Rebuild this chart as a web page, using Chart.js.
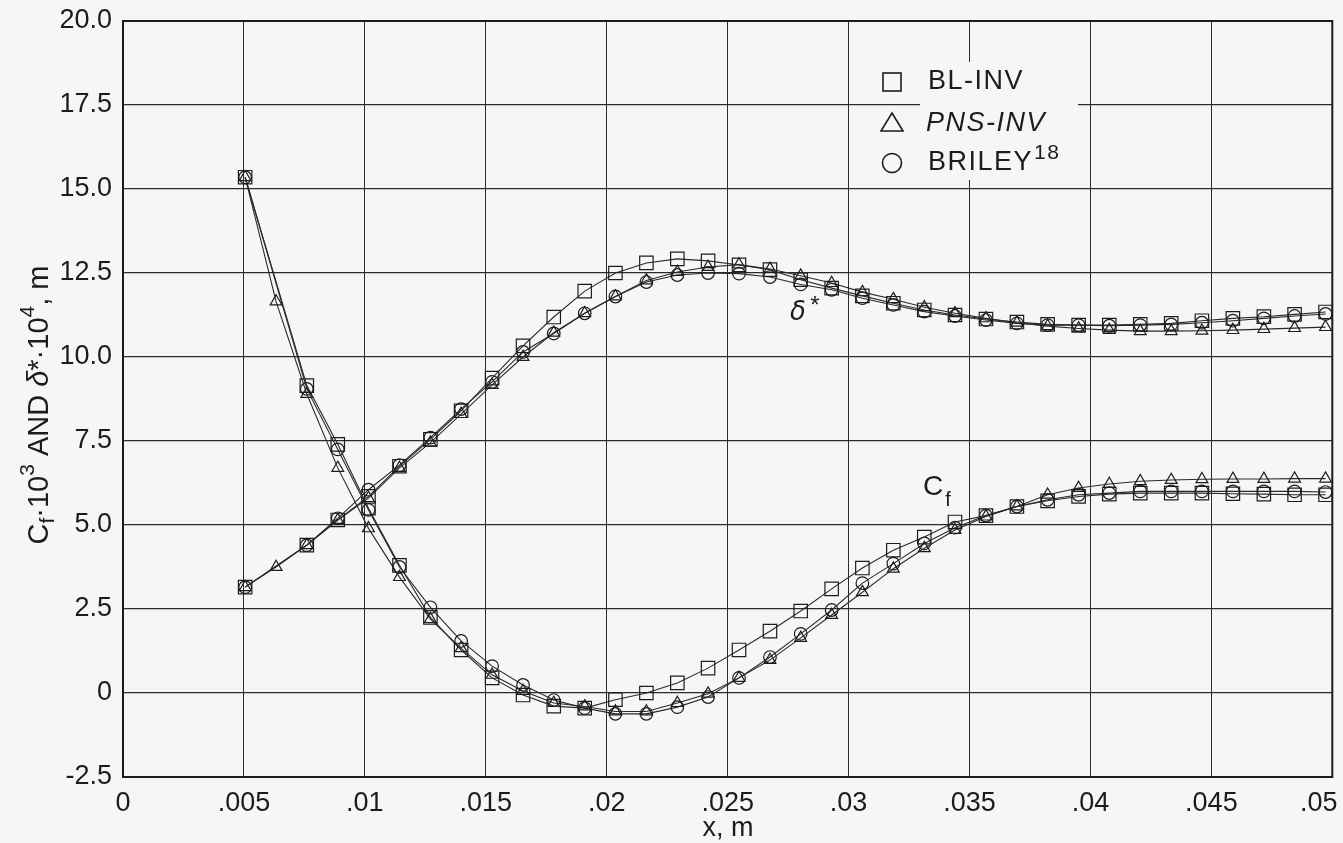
<!DOCTYPE html>
<html>
<head>
<meta charset="utf-8">
<script src="https://cdn.jsdelivr.net/npm/chart.js@4.4.0/dist/chart.umd.min.js"></script>
<style>
  body { margin: 0; background: #f6f6f5; }
  canvas { display: block; }
</style>
</head>
<body>
<canvas id="myChart" width="1343" height="843"></canvas>
<script>
// x stations along the plate, m
const xValues = [0.00505, 0.00633, 0.00760, 0.00888, 0.01015, 0.01143, 0.01271, 0.01398, 0.01526, 0.01654,
  0.01781, 0.01909, 0.02036, 0.02164, 0.02292, 0.02419, 0.02547, 0.02675, 0.02802, 0.02930,
  0.03057, 0.03185, 0.03313, 0.03440, 0.03568, 0.03696, 0.03823, 0.03951, 0.04078, 0.04206,
  0.04334, 0.04461, 0.04589, 0.04717, 0.04844, 0.04972];

// Cf * 10^3
const cfBL = [15.35, null, 9.15, 7.4, 5.5, 3.8, 2.25, 1.28, 0.45, -0.06,
  -0.39, -0.45, -0.2, 0.0, 0.3, 0.74, 1.28, 1.84, 2.44, 3.1,
  3.72, 4.25, 4.64, 5.09, 5.28, 5.55, 5.72, 5.85, 5.92, 5.95,
  5.95, 5.95, 5.93, 5.92, 5.9, 5.9];
const cfPNS = [15.35, 11.65, 8.9, 6.7, 4.9, 3.45, 2.2, 1.33, 0.54, 0.06,
  -0.3, -0.4, -0.55, -0.55, -0.3, -0.02, 0.45, 0.98, 1.64, 2.32,
  3.0, 3.7, 4.31, 4.85, 5.25, 5.55, 5.9, 6.1, 6.22, 6.3,
  6.34, 6.36, 6.37, 6.37, 6.38, 6.38];
const cfBriley = [15.35, null, 9.05, 7.25, 5.45, 3.75, 2.55, 1.55, 0.8, 0.24,
  -0.21, -0.45, -0.62, -0.62, -0.42, -0.12, 0.45, 1.07, 1.76, 2.47,
  3.27, 3.85, 4.45, 4.92, 5.28, 5.55, 5.75, 5.9, 5.95, 6.0,
  6.0, 6.0, 6.0, 6.0, 6.0, 5.98];

// delta* * 10^4, m
const dsBL = [3.15, null, 4.4, 5.15, 5.85, 6.75, 7.55, 8.4, 9.37, 10.33,
  11.19, 11.96, 12.5, 12.8, 12.92, 12.86, 12.74, 12.6, 12.3, 12.05,
  11.82, 11.6, 11.4, 11.25, 11.13, 11.04, 10.97, 10.95, 10.95, 10.97,
  11.0, 11.08, 11.15, 11.2, 11.27, 11.34];
const dsPNS = [3.15, 3.75, 4.4, 5.15, 5.8, 6.7, 7.45, 8.3, 9.17, 10.0,
  10.72, 11.3, 11.8, 12.28, 12.53, 12.68, 12.75, 12.62, 12.42, 12.2,
  11.93, 11.72, 11.48, 11.3, 11.15, 11.02, 10.92, 10.85, 10.8, 10.77,
  10.77, 10.78, 10.8, 10.83, 10.86, 10.89];
const dsBriley = [3.15, null, 4.4, 5.2, 6.05, 6.78, 7.6, 8.45, 9.26, 10.15,
  10.7, 11.3, 11.8, 12.23, 12.44, 12.5, 12.48, 12.38, 12.16, 12.0,
  11.75, 11.55, 11.35, 11.22, 11.1, 11.0, 10.95, 10.95, 10.93, 10.95,
  10.97, 11.02, 11.08, 11.15, 11.22, 11.28];

const legendLabels = ["BL-INV", "PNS-INV", "BRILEY"];

const FONT = "'Liberation Sans', Arial, sans-serif";
const INK = "#1c1c1c";

function pts(ys) {
  return xValues.map((x, i) => ({ x: x, y: ys[i] }));
}

function series(ys, style, radius) {
  return {
    data: pts(ys),
    pointStyle: style,
    pointRadius: radius,
    pointHoverRadius: radius,
    pointBorderWidth: 1.2,
    pointBorderColor: INK,
    pointBackgroundColor: "rgba(0,0,0,0)",
    borderColor: "#2a2a2a",
    borderWidth: 1.1,
    tension: 0,
    spanGaps: true,
    fill: false
  };
}

// ....... titles, annotations, legend box and frame .............
const decorPlugin = {
  id: "decor",
  afterDraw(chart) {
    const ctx = chart.ctx;
    const a = chart.chartArea;
    ctx.save();

    // frame
    ctx.strokeStyle = INK;
    ctx.lineWidth = 2;
    ctx.strokeRect(a.left, a.top, a.right - a.left, a.bottom - a.top);

    // legend box
    ctx.fillStyle = "#f6f6f5";
    ctx.fillRect(920, 62, 158, 118);
    ctx.strokeStyle = INK;
    ctx.lineWidth = 1.6;
    const rows = [82, 123, 163];
    // square
    ctx.strokeRect(883, rows[0] - 9, 18, 18);
    // triangle
    ctx.beginPath();
    ctx.moveTo(892, rows[1] - 10);
    ctx.lineTo(903, rows[1] + 8);
    ctx.lineTo(881, rows[1] + 8);
    ctx.closePath();
    ctx.stroke();
    // circle
    ctx.beginPath();
    ctx.arc(892, rows[2], 9.5, 0, Math.PI * 2);
    ctx.stroke();

    ctx.fillStyle = INK;
    ctx.textBaseline = "middle";
    ctx.textAlign = "left";
    ctx.letterSpacing = "1.5px";
    ctx.font = "27px " + FONT;
    ctx.fillText(legendLabels[0], 928, rows[0]);
    ctx.font = "italic 27px " + FONT;
    ctx.fillText(legendLabels[1], 926, rows[1]);
    ctx.font = "27px " + FONT;
    ctx.fillText(legendLabels[2], 928, rows[2]);
    const bw = ctx.measureText(legendLabels[2]).width;
    ctx.font = "21px " + FONT;
    ctx.fillText("18", 928 + bw + 1, rows[2] - 10);
    ctx.letterSpacing = "0px";

    // curve labels
    ctx.font = "italic 26px 'DejaVu Sans', sans-serif";
    ctx.textAlign = "center";
    ctx.fillText("δ", 798, 313);
    ctx.font = "24px " + FONT;
    ctx.fillText("*", 815, 306);
    ctx.font = "28px " + FONT;
    ctx.fillText("C", 933, 487);
    ctx.font = "20px " + FONT;
    ctx.fillText("f", 948, 500);

    // x title
    ctx.font = "27px " + FONT;
    ctx.fillText("x, m", 728, 829);

    // y title with sub/superscripts
    const base = 29;
    const parts = [
      ["C", 1, 0, ""], ["f", 0.72, 0.3, ""], ["·10", 1, 0, ""], ["3", 0.72, -0.42, ""],
      [" AND ", 1, 0, ""], ["δ", 1, 0, "italic "], ["*·10", 1, 0, ""], ["4", 0.72, -0.42, ""],
      [", m", 1, 0, ""]
    ];
    let total = 0;
    for (const p of parts) {
      ctx.font = p[3] + Math.round(base * p[1]) + "px " + FONT;
      total += ctx.measureText(p[0]).width;
    }
    ctx.translate(40, 405);
    ctx.rotate(-Math.PI / 2);
    ctx.textAlign = "left";
    let cx = -total / 2;
    for (const p of parts) {
      ctx.font = p[3] + Math.round(base * p[1]) + "px " + FONT;
      ctx.fillText(p[0], cx, p[2] * base);
      cx += ctx.measureText(p[0]).width;
    }
    ctx.restore();
  }
};

function xTickLabel(v) {
  if (v === 0) return "0";
  const s = String(Number(v.toFixed(3))).replace(/^0/, "");
  // last label sits a bit left of its gridline, as on the original
  return v >= 0.05 ? s + "\u2003" : s;
}

new Chart(document.getElementById("myChart"), {
  type: "line",
  data: {
    datasets: [
      series(cfBL, "rect", 9.5),
      series(cfPNS, "triangle", 6.8),
      series(cfBriley, "circle", 6.3),
      series(dsBL, "rect", 9.5),
      series(dsPNS, "triangle", 6.8),
      series(dsBriley, "circle", 6.3)
    ]
  },
  options: {
    responsive: false,
    animation: false,
    events: [],
    layout: { padding: { left: 0, top: 21, right: 10, bottom: 0 } },
    plugins: {
      legend: { display: false },
      tooltip: { enabled: false }
    },
    scales: {
      x: {
        type: "linear",
        min: 0,
        max: 0.05,
        afterFit: (s) => { s.height = 66; s.paddingLeft = 0; s.paddingRight = 0; },
        ticks: {
          stepSize: 0.005,
          padding: 10,
          color: INK,
          font: { family: FONT, size: 27 },
          maxRotation: 0,
          callback: xTickLabel
        },
        grid: { color: "#2b2b2b", lineWidth: 1, drawTicks: false },
        border: { display: false }
      },
      y: {
        min: -2.5,
        max: 20,
        afterFit: (s) => { s.width = 123; s.paddingTop = 0; s.paddingBottom = 0; },
        ticks: {
          stepSize: 2.5,
          padding: 11,
          color: INK,
          font: { family: FONT, size: 27 },
          callback: (v) => (v === 0 ? "0" : v.toFixed(1))
        },
        grid: { color: "#2b2b2b", lineWidth: 1.3, drawTicks: false },
        border: { display: false }
      }
    }
  },
  plugins: [decorPlugin]
});
</script>
</body>
</html>
